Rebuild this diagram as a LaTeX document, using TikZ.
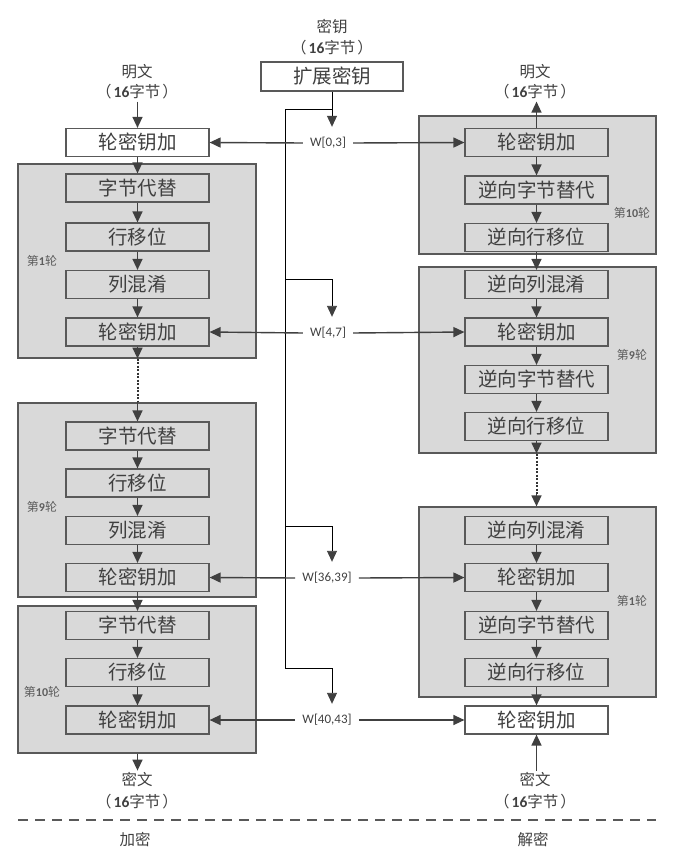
\documentclass[tikz,border=0pt]{standalone}
\usepackage{fontspec}
\setmainfont{Noto Sans CJK SC}
\newfontfamily\lat{Carlito}
\usetikzlibrary{arrows.meta}
\definecolor{fillg}{HTML}{D9D9D9}
\definecolor{edge}{HTML}{595959}
\definecolor{txt}{HTML}{404040}
\definecolor{arr}{HTML}{404040}
\newcommand\sixteen{（\kern2pt{\lat\bfseries 16}字节\kern2pt）}
\begin{document}
\begin{tikzpicture}[x=1pt,y=-1pt,
  op/.style={draw=edge, line width=1.2pt, fill=fillg, minimum width=143pt, minimum height=28pt, inner sep=0pt, font=\fontsize{19.5}{19.5}\selectfont, text=txt},
  opw/.style={op, fill=white},
  roundbox/.style={draw=edge, line width=1.2pt, fill=fillg, inner sep=0pt},
  lbl/.style={font=\fontsize{15.5}{15.5}\selectfont, text=txt, inner xsep=0pt, inner ysep=2pt},
  rl/.style={font=\fontsize{12}{12}\selectfont, text=txt!85, inner sep=0pt},
  wl/.style={font=\lat\fontsize{13}{13}\selectfont, text=txt, inner xsep=7pt, inner ysep=0pt, minimum height=16pt},
  ar/.style={draw=arr, line width=1.4pt, -{Triangle[length=11pt,width=10pt]}},
  dt/.style={draw=arr!80!black, line width=2pt, dash pattern=on 2pt off 1.5pt},
  key/.style={draw=black, line width=0.9pt},
  keyar/.style={key, -{Triangle[length=11pt,width=10pt,color=arr]}, shorten >=8pt}
]
\useasboundingbox (0,0) rectangle (690,858);

% ---------- round (gray) boxes ----------
\node[roundbox, minimum width=238pt, minimum height=194pt] (G1)  at (137,261) {};
\node[roundbox, minimum width=238pt, minimum height=194pt] (G9)  at (137,500) {};
\node[roundbox, minimum width=238pt, minimum height=147pt] (G10) at (137,679.5) {};
\node[roundbox, minimum width=237pt, minimum height=138pt] (H10) at (537.5,185) {};
\node[roundbox, minimum width=237pt, minimum height=186pt] (H9)  at (537.5,360) {};
\node[roundbox, minimum width=237pt, minimum height=190pt] (H1)  at (537.5,602) {};

\node[rl] (g1l)  at (42,261) {第{\lat\bfseries 1}轮};
\node[rl] (g9l)  at (42,507) {第{\lat\bfseries 9}轮};
\node[rl] (g10l) at (42,692) {第{\lat\bfseries 10}轮};
\node[rl] (h10l) at (632,213) {第{\lat\bfseries 10}轮};
\node[rl] (h9l)  at (632,355) {第{\lat\bfseries 9}轮};
\node[rl] (h1l)  at (632,601) {第{\lat\bfseries 1}轮};

% ---------- top labels ----------
\node[lbl] (lp1) at (137,72) {明文};
\node[lbl] (lp2) at (137,92) {\sixteen};
\node[lbl] (rp1) at (535,72) {明文};
\node[lbl] (rp2) at (535,92) {\sixteen};
\node[lbl] (k1)  at (332,27) {密钥};
\node[lbl] (k2)  at (332,48) {\sixteen};
\node[opw, minimum width=142pt, minimum height=29pt] (ext) at (332,76.5) {扩展密钥};

% ---------- encryption column ----------
\node[opw] (L0)  at (137.5,142.5) {轮密钥加};
\node[op]  (L1a) at (137.5,188) {字节代替};
\node[op]  (L1b) at (137.5,237) {行移位};
\node[op]  (L1c) at (137.5,284.5) {列混淆};
\node[op]  (L1d) at (137.5,332) {轮密钥加};
\node[op]  (L9a) at (137.5,436) {字节代替};
\node[op]  (L9b) at (137.5,483) {行移位};
\node[op]  (L9c) at (137.5,530.5) {列混淆};
\node[op]  (L9d) at (137.5,577.5) {轮密钥加};
\node[op]  (L10a) at (137.5,625.5) {字节代替};
\node[op]  (L10b) at (137.5,672.5) {行移位};
\node[op]  (L10c) at (137.5,720) {轮密钥加};

% ---------- decryption column ----------
\node[op]  (R0)  at (536.5,142.5) {轮密钥加};
\node[op]  (R10b) at (536.5,190) {逆向字节替代};
\node[op]  (R10c) at (536.5,237.5) {逆向行移位};
\node[op]  (R9a) at (536.5,284.5) {逆向列混淆};
\node[op]  (R9b) at (536.5,332) {轮密钥加};
\node[op]  (R9c) at (536.5,379.5) {逆向字节替代};
\node[op]  (R9d) at (536.5,426.5) {逆向行移位};
\node[op]  (R1a) at (536.5,530.5) {逆向列混淆};
\node[op]  (R1b) at (536.5,577.5) {轮密钥加};
\node[op]  (R1c) at (536.5,625.5) {逆向字节替代};
\node[op]  (R1d) at (536.5,672.5) {逆向行移位};
\node[opw] (Rf)  at (536.5,720) {轮密钥加};

% ---------- bottom labels ----------
\node[lbl] (lc1) at (137,780) {密文};
\node[lbl] (lc2) at (137,802) {\sixteen};
\node[lbl] (rc1) at (535,780) {密文};
\node[lbl] (rc2) at (535,802) {\sixteen};
\coordinate (dA) at (18,820);
\coordinate (dB) at (656,820);
\draw[draw=edge, line width=1.4pt, dash pattern=on 10pt off 7pt] (dA) -- (dB);
\node[lbl] (enc) at (135,840) {加密};
\node[lbl] (dec) at (533,840) {解密};

% ---------- W labels ----------
\node[wl] (W0)  at (328,143) {W[0,3]};
\node[wl] (W4)  at (328,333) {W[4,7]};
\node[wl] (W36) at (327,578) {W[36,39]};
\node[wl] (W40) at (327,720) {W[40,43]};

% ---------- key schedule lines ----------
\coordinate (kA) at (285,109);
\coordinate (kB) at (285,279);
\coordinate (kC) at (285,526);
\coordinate (kD) at (285,668);
\draw[keyar] (ext.south) -- (ext.south |- W0.north);
\draw[key] (ext.south |- kA) -- (kA) -- (kD);
\draw[keyar] (kB) -- (kB -| ext.south) -- (ext.south |- W4.north);
\draw[keyar] (kC) -- (kC -| ext.south) -- (ext.south |- W36.north);
\draw[keyar] (kD) -- (kD -| ext.south) -- (ext.south |- W40.north);

% ---------- W arrows ----------
\draw[ar] (W0.west) -- (L0.east);
\draw[ar] (W0.east) -- (R0.west);
\draw[ar] (W4.west) -- (L1d.east);
\draw[ar] (W4.east) -- (R9b.west);
\draw[ar] (W36.west) -- (L9d.east);
\draw[ar] (W36.east) -- (R1b.west);
\draw[ar] (W40.west) -- (L10c.east);
\draw[ar] (W40.east) -- (Rf.west);

% ---------- encryption flow ----------
\draw[ar] (lp2.south -| L0.north) -- (L0.north);
\draw[ar] (L0) -- (L1a);
\draw[ar] (L1a) -- (L1b);
\draw[ar] (L1b) -- (L1c);
\draw[ar] (L1c) -- (L1d);
\draw[ar] (L1d.south) -- (L1d.south |- G1.south);
\draw[dt] (L1d.south |- G1.south) -- (L1d.south |- G9.north);
\draw[ar] (L1d.south |- G9.north) -- (L9a.north);
\draw[ar] (L9a) -- (L9b);
\draw[ar] (L9b) -- (L9c);
\draw[ar] (L9c) -- (L9d);
\draw[ar] (L9d) -- (L10a);
\draw[ar] (L10a) -- (L10b);
\draw[ar] (L10b) -- (L10c);
\draw[ar] (L10c.south |- G10.south) -- (L10c.south |- lc1.north);

% ---------- decryption flow ----------
\draw[ar] (R0.north) -- (R0.north |- rp2.south);
\draw[ar] (R0) -- (R10b);
\draw[ar] (R10b) -- (R10c);
\draw[ar] (R10c) -- (R9a);
\draw[ar] (R9a) -- (R9b);
\draw[ar] (R9b) -- (R9c);
\draw[ar] (R9c) -- (R9d);
\draw[ar] (R9d.south) -- (R9d.south |- H9.south);
\coordinate (dotend) at ([yshift=12pt]R1a.north |- H1.north);
\draw[dt] (R9d.south |- H9.south) -- (dotend);
\draw[ar] (dotend) -- (R1a.north |- H1.north);
\draw[ar] (R1a) -- (R1b);
\draw[ar] (R1b) -- (R1c);
\draw[ar] (R1c) -- (R1d);
\draw[ar] (R1d) -- (Rf);
\draw[ar] (Rf.south |- rc1.north) -- (Rf.south);
\end{tikzpicture}
\end{document}
